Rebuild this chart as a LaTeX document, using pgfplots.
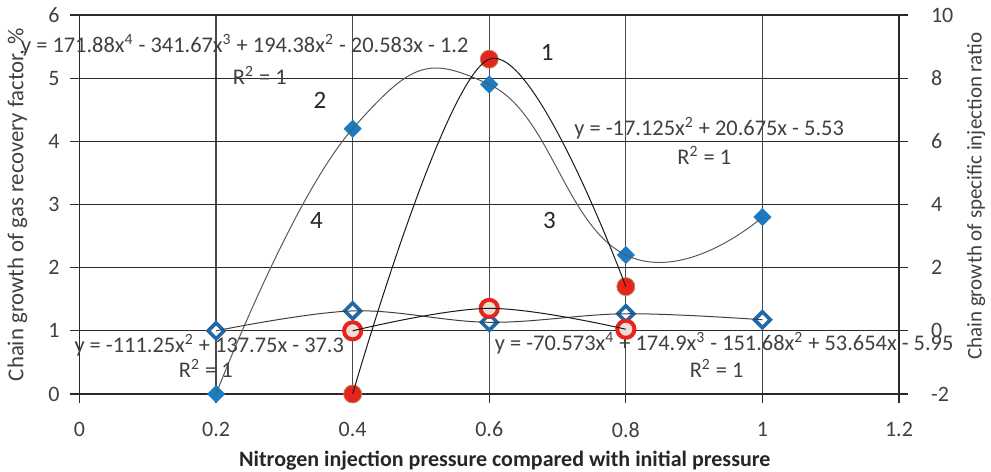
\documentclass[border=0pt]{standalone}
\usepackage{fontspec}
\setmainfont{Carlito}
\usepackage{pgfplots}
\usepackage{pgfplotstable}
\pgfplotsset{compat=1.18}
\definecolor{tickgray}{HTML}{404040}
\definecolor{gridc}{HTML}{2A2A2A}
\definecolor{vgridc}{HTML}{4A4A4A}
\definecolor{bluefill}{HTML}{1B7CC4}
\definecolor{blueedge}{HTML}{1F69A8}
\definecolor{redfill}{HTML}{E8231E}
\definecolor{redline}{HTML}{E8231E}
\definecolor{beige}{HTML}{EEDDD3}
\definecolor{olive}{HTML}{B0905A}

% left axis series
\pgfplotstableread{
x y
0.2 0
0.4 4.2
0.6 4.9
0.8 2.2
1.0 2.8
}\seriesTwo
\pgfplotstableread{
x y
0.4 0
0.6 5.3
0.8 1.7
}\seriesOne
% right axis series
\pgfplotstableread{
x y
0.2 0
0.4 0.63
0.6 0.27
0.8 0.54
1.0 0.35
}\seriesFour
\pgfplotstableread{
x y
0.4 0
0.6 0.71
0.8 0.05
}\seriesThree

\begin{document}
\begin{tikzpicture}
\pgfplotsset{
 common/.style={
  scale only axis, width=409.75pt, height=189.5pt,
  xmin=0, xmax=1.2,
  clip mode=individual,
  /pgf/number format/assume math mode=true,
  tick label style={font=\fontsize{11}{13}\selectfont, text=tickgray},
  tick align=outside, major tick length=4.5pt,
  tick style={gridc, line width=0.6pt},
  label style={font=\fontsize{11}{13}\selectfont, text=tickgray},
 }
}
\begin{axis}[common, name=ax,
  ymin=0, ymax=6, ytick={0,1,2,3,4,5,6},
  xtick={0,0.2,0.4,0.6,0.8,1.0,1.2},
  xticklabels={0,0.2,0.4,0.6,0.8,1,1.2},
  xtick pos=bottom, ytick pos=left,
  grid=major,
  x grid style={vgridc, line width=0.65pt},
  y grid style={gridc, line width=0.6pt},
  axis line style={gridc, line width=0.6pt},
  xticklabel style={yshift=-6pt},
  yticklabel style={xshift=-2pt},
  xlabel={\textbf{Nitrogen injection pressure compared with initial pressure}},
  xlabel style={at={(axis description cs:0.519,0)}, anchor=base, yshift=-36.5pt, text=black!85},
  ylabel={Chain growth of gas recovery factor, \%},
  ylabel style={at={(axis description cs:-0.0757,0.5)}, anchor=center, font=\fontsize{11.4}{13}\selectfont},
]
\addplot[only marks, mark=square*, mark size=3.0pt,
  mark options={rotate=45, fill=bluefill, draw=bluefill}] table {\seriesTwo};
\addplot[only marks, mark=*, mark size=4.5pt,
  mark options={fill=redfill, draw=olive, line width=0.4pt}] table {\seriesOne};
\addplot[no marks, smooth, tension=0.8, black!65, line width=0.5pt] table {\seriesTwo};
\addplot[no marks, smooth, tension=0.6, black!90, line width=0.5pt] table {\seriesOne};

\begin{scope}[every node/.style={font=\fontsize{11.2}{13}\selectfont, text=tickgray, inner sep=0pt}]
\node at (axis cs:0.242,5.52) {y = 171.88x\textsuperscript{4} - 341.67x\textsuperscript{3} + 194.38x\textsuperscript{2} - 20.583x - 1.2};
\node at (axis cs:0.264,5.05) {R\textsuperscript{2} = 1};
\node at (axis cs:0.922,4.21) {y = -17.125x\textsuperscript{2} + 20.675x - 5.53};
\node at (axis cs:0.915,3.78) {R\textsuperscript{2} = 1};
\node at (axis cs:0.19,0.775) {y = -111.25x\textsuperscript{2} + 137.75x - 37.3};
\node at (axis cs:0.185,0.41) {R\textsuperscript{2} = 1};
\node at (axis cs:0.944,0.81) {y = -70.573x\textsuperscript{4} + 174.9x\textsuperscript{3} - 151.68x\textsuperscript{2} + 53.654x - 5.95};
\node at (axis cs:0.933,0.41) {R\textsuperscript{2} = 1};
\end{scope}
\begin{scope}[every node/.style={font=\fontsize{12.5}{14}\selectfont, text=black!85, inner sep=0pt}]
\node at (axis cs:0.685,5.40) {1};
\node at (axis cs:0.352,4.65) {2};
\node at (axis cs:0.688,2.75) {3};
\node at (axis cs:0.347,2.75) {4};
\end{scope}
\end{axis}

\begin{axis}[common,
  ymin=-2, ymax=10, ytick={-2,0,2,4,6,8,10},
  axis y line*=right, axis x line=none,
  axis line style={gridc, line width=0.6pt},
  yticklabel style={xshift=8pt},
  ylabel={Chain growth of specific injection ratio},
  ylabel style={at={(axis description cs:1.094,0.522)}, anchor=center, font=\fontsize{10.5}{13}\selectfont},
]
\addplot[only marks, mark=square*, mark size=2.8pt,
  mark options={rotate=45, fill=white, draw=blueedge, line width=1.8pt}] table {\seriesFour};
\addplot[only marks, mark=*, mark size=4.3pt,
  mark options={fill=beige, draw=redline, line width=2pt}] table {\seriesThree};
\addplot[no marks, smooth, tension=0.6, black!75, line width=0.5pt] table {\seriesFour};
\addplot[no marks, smooth, tension=0.6, black!90, line width=0.5pt] table {\seriesThree};
\end{axis}

\pgfresetboundingbox
\path ([shift={(-39.75pt,-39pt)}]ax.south west) rectangle ([shift={(46pt,7.5pt)}]ax.north east);
\end{tikzpicture}
\end{document}
